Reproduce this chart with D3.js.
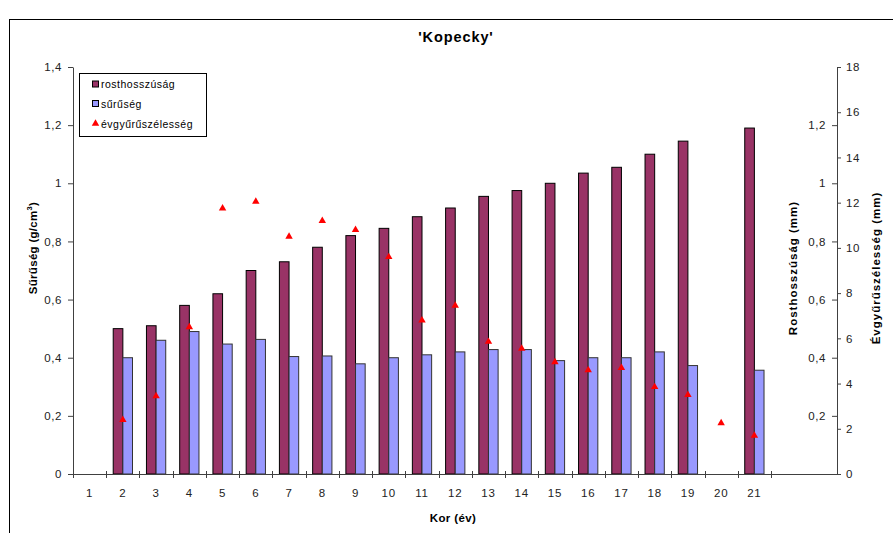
<!DOCTYPE html>
<html>
<head>
<meta charset="utf-8">
<script src="https://cdn.jsdelivr.net/npm/d3@7/dist/d3.min.js"></script>
<style>
  html, body { margin: 0; padding: 0; background: #fff; }
  svg { display: block; font-family: "Liberation Sans", Arial, sans-serif; }
</style>
</head>
<body>
<svg id="chart" width="893" height="533"></svg>
<script>
// Kor (év) – age classes on the category axis
const ages = [1, 2, 3, 4, 5, 6, 7, 8, 9, 10, 11, 12, 13, 14, 15, 16, 17, 18, 19, 20, 21];
// Rosthosszúság (mm)
const rosthossz = [null, 0.50, 0.51, 0.58, 0.62, 0.70, 0.73, 0.78, 0.82, 0.845, 0.885, 0.915, 0.955, 0.975, 1.00, 1.035, 1.055, 1.10, 1.145, null, 1.19];
// Sűrűség (g/cm3)
const suruseg = [null, 0.40, 0.46, 0.49, 0.447, 0.463, 0.404, 0.406, 0.379, 0.40, 0.41, 0.42, 0.428, 0.428, 0.39, 0.40, 0.40, 0.42, 0.373, null, 0.357];
// Évgyűrűszélesség (mm)
const evgyuru = [null, 2.4, 3.45, 6.5, 11.75, 12.05, 10.5, 11.2, 10.8, 9.6, 6.8, 7.45, 5.85, 5.55, 4.95, 4.6, 4.7, 3.85, 3.5, 2.25, 1.7];

// Tick values for the three value axes
const densityTicks = [0, 0.2, 0.4, 0.6, 0.8, 1.0, 1.2, 1.4];
const fibreTicks = [0.2, 0.4, 0.6, 0.8, 1.0, 1.2];
const ringTicks = [0, 2, 4, 6, 8, 10, 12, 14, 16, 18];

const legendItems = ["rosthosszúság", "sűrűség", "évgyűrűszélesség"];

const colFibre = "#993366";
const colDensity = "#9999FF";
const colRing = "#FF0000";
const axisCol = "#404040";
const textCol = "#222";

const svg = d3.select("#chart");
const plot = { left: 73, right: 837, top: 67, bottom: 474 };
const catEnd = 771;

const hu = d3.formatLocale({ decimal: ",", thousands: " ", grouping: [3], currency: ["", " Ft"] });
const fmt = hu.format("~g");

// outer chart frame
svg.append("rect")
  .attr("x", 9.5).attr("y", 19.5).attr("width", 900).attr("height", 540)
  .attr("fill", "#fff").attr("stroke", "#000").attr("stroke-width", 1);

// scales
const x = d3.scaleBand().domain(ages).range([plot.left, catEnd]).padding(0);
const yDensity = d3.scaleLinear().domain([0, 1.4]).range([plot.bottom, plot.top]);
const yFibre = d3.scaleLinear().domain([0, 1.4]).range([plot.bottom, plot.top]);
const yRing = d3.scaleLinear().domain([0, 18]).range([plot.bottom, plot.top]);

const barW = x.bandwidth() * 0.29;

// bars: rosthosszúság
svg.append("g").selectAll("rect")
  .data(ages.map((a, i) => ({ a, v: rosthossz[i] })).filter(d => d.v != null))
  .join("rect")
  .attr("x", d => x(d.a) + x.bandwidth() / 2 - barW)
  .attr("y", d => yFibre(d.v))
  .attr("width", barW)
  .attr("height", d => plot.bottom - yFibre(d.v))
  .attr("fill", colFibre).attr("stroke", "#000").attr("stroke-width", 1);

// bars: sűrűség
svg.append("g").selectAll("rect")
  .data(ages.map((a, i) => ({ a, v: suruseg[i] })).filter(d => d.v != null))
  .join("rect")
  .attr("x", d => x(d.a) + x.bandwidth() / 2)
  .attr("y", d => yDensity(d.v))
  .attr("width", barW)
  .attr("height", d => plot.bottom - yDensity(d.v))
  .attr("fill", colDensity).attr("stroke", "#333").attr("stroke-width", 1);

// markers: évgyűrűszélesség
const tri = d3.symbol().type(d3.symbolTriangle).size(24);
svg.append("g").selectAll("path")
  .data(ages.map((a, i) => ({ a, v: evgyuru[i] })).filter(d => d.v != null))
  .join("path")
  .attr("d", tri)
  .attr("transform", d => `translate(${x(d.a) + x.bandwidth() / 2},${yRing(d.v)})`)
  .attr("fill", colRing);

function styleAxis(g, size) {
  g.select(".domain").attr("stroke", axisCol);
  g.selectAll(".tick line").attr("stroke", axisCol);
  g.selectAll(".tick text").attr("fill", textCol).attr("font-size", size || 11).attr("letter-spacing", "0.6px");
}

// left axis (sűrűség)
svg.append("g")
  .attr("transform", `translate(${plot.left},0)`)
  .call(d3.axisLeft(yDensity).tickValues(densityTicks).tickFormat(fmt).tickSize(5).tickSizeOuter(0).tickPadding(6))
  .call(g => styleAxis(g, 11.5));

// right inner axis (rosthosszúság)
svg.append("g")
  .attr("transform", `translate(${plot.right},0)`)
  .call(d3.axisLeft(yFibre).tickValues(fibreTicks).tickFormat(fmt).tickSize(5).tickSizeOuter(0).tickPadding(6))
  .call(g => styleAxis(g, 11.5));

// right outer axis (évgyűrűszélesség)
svg.append("g")
  .attr("transform", `translate(${plot.right},0)`)
  .call(d3.axisRight(yRing).tickValues(ringTicks).tickSize(4).tickSizeOuter(0).tickPadding(5))
  .call(g => styleAxis(g, 11.5));

// category axis
const xAxis = svg.append("g").attr("transform", `translate(0,${plot.bottom})`);
xAxis.append("line")
  .attr("x1", plot.left).attr("x2", plot.right).attr("y1", 0.5).attr("y2", 0.5)
  .attr("stroke", axisCol);
const boundaries = ages.map(a => x(a)).concat([catEnd]);
xAxis.selectAll(".bnd").data(boundaries).join("line")
  .attr("class", "bnd")
  .attr("x1", d => Math.round(d) + 0.5).attr("x2", d => Math.round(d) + 0.5)
  .attr("y1", -3).attr("y2", 4)
  .attr("stroke", axisCol);
xAxis.selectAll(".lbl").data(ages).join("text")
  .attr("class", "lbl")
  .attr("x", d => x(d) + x.bandwidth() / 2)
  .attr("y", 23)
  .attr("text-anchor", "middle")
  .attr("font-size", 11.5).attr("letter-spacing", "0.8px")
  .attr("fill", textCol)
  .text(d => d);

// title
svg.append("text")
  .attr("x", 456).attr("y", 42)
  .attr("text-anchor", "middle")
  .attr("font-size", 14.5).attr("font-weight", "bold").attr("letter-spacing", "0.9px")
  .attr("fill", "#000")
  .text("'Kopecky'");

// axis titles
svg.append("text")
  .attr("x", 453).attr("y", 522)
  .attr("text-anchor", "middle")
  .attr("font-size", 11.5).attr("font-weight", "bold").attr("letter-spacing", "0.4px")
  .text("Kor (év)");

const leftTitle = svg.append("text")
  .attr("transform", "translate(37,248) rotate(-90)")
  .attr("text-anchor", "middle")
  .attr("font-size", 11.5).attr("font-weight", "bold").attr("letter-spacing", "0.3px");
leftTitle.append("tspan").text("Sűrűség (g/cm");
leftTitle.append("tspan").attr("font-size", 7.5).attr("dy", -5).text("3");
leftTitle.append("tspan").attr("dy", 5).text(")");

svg.append("text")
  .attr("transform", "translate(797,268) rotate(-90)")
  .attr("text-anchor", "middle")
  .attr("font-size", 11.5).attr("font-weight", "bold").attr("letter-spacing", "1px")
  .text("Rosthosszúság (mm)");

svg.append("text")
  .attr("transform", "translate(880,268) rotate(-90)")
  .attr("text-anchor", "middle")
  .attr("font-size", 11.5).attr("font-weight", "bold").attr("letter-spacing", "1px")
  .text("Évgyűrűszélesség (mm)");

// legend
const lg = svg.append("g");
lg.append("rect")
  .attr("x", 79.5).attr("y", 73.5).attr("width", 127).attr("height", 63)
  .attr("fill", "#fff").attr("stroke", "#000");
const rowY = [84, 103.5, 123.5];
lg.append("rect").attr("x", 92.5).attr("y", rowY[0] - 3).attr("width", 6).attr("height", 6)
  .attr("fill", colFibre).attr("stroke", "#000");
lg.append("rect").attr("x", 92.5).attr("y", rowY[1] - 3).attr("width", 6).attr("height", 6)
  .attr("fill", colDensity).attr("stroke", "#000");
lg.append("path").attr("d", tri).attr("transform", `translate(95.5,${rowY[2]})`).attr("fill", colRing);
lg.selectAll(".lt").data(legendItems).join("text")
  .attr("class", "lt")
  .attr("x", 101).attr("y", (d, i) => rowY[i] + 4)
  .attr("font-size", 10.5).attr("letter-spacing", "0.5px")
  .attr("fill", "#000")
  .text(d => d);
</script>
</body>
</html>
